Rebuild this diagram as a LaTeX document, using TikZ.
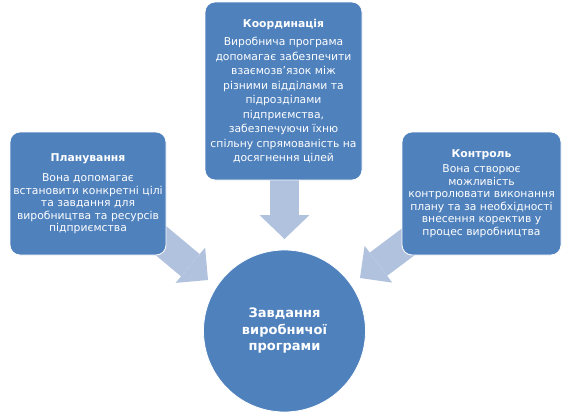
\documentclass[tikz,border=0pt]{standalone}
\usepackage{fontspec}
\setmainfont{DejaVu Sans}
\usetikzlibrary{arrows.meta}
\definecolor{boxblue}{HTML}{4F81BD}
\definecolor{arrowblue}{HTML}{B1C2DE}

\begin{document}
\begin{tikzpicture}[x=1pt, y=-1pt,
    task/.style={draw=white, line width=0.8pt, fill=boxblue, rounded corners=10pt,
        text=white, align=center, inner sep=0pt, font=\fontsize{10.8}{12.5}\selectfont},
    goal/.style={circle, fill=boxblue, draw=white, line width=0.8pt, text=white,
        align=center, minimum size=162pt, inner sep=0pt,
        font=\fontsize{13}{16.5}\selectfont\bfseries},
    flow/.style={arrowblue, line width=29pt,
        -{Triangle[width=46pt, length=23pt, line width=0pt]}}]
    \useasboundingbox[fill=white] (0,0) rectangle (567,415);

    \coordinate (tipL) at (208,280);
    \coordinate (tipT) at (284.5,239);
    \coordinate (tipR) at (360,278);
    \coordinate (fromL) at (147,229);
    \coordinate (fromT) at (284.5,150);
    \coordinate (fromR) at (424,230);

    \draw[flow] (fromL) -- (tipL);
    \draw[flow, -{Triangle[width=50pt, length=24pt, line width=0pt]}] (fromT) -- (tipT);
    \draw[flow] (fromR) -- (tipR);

    \node[task, minimum width=156pt, minimum height=123pt] (plan) at (88,193.5)
        {\textbf{Планування}\\[8pt]
         Вона допомагає\\встановити конкретні цілі\\та завдання для\\
         виробництва та ресурсів\\підприємства};
    \node[task, minimum width=157pt, minimum height=178pt,
        font=\fontsize{10.8}{14.5}\selectfont] (coord) at (283.5,91)
        {\textbf{Координація}\\[4pt]
         Виробнича програма\\допомагає забезпечити\\взаємозв'язок між\\
         різними відділами та\\підрозділами\\підприємства,\\
         забезпечуючи їхню\\спільну спрямованість на\\досягнення цілей};
    \node[task, minimum width=159pt, minimum height=123pt] (ctrl) at (481.5,193.5)
        {\textbf{Контроль}\\[3pt]
         Вона створює\\можливість\\контролювати виконання\\
         плану та за необхідності\\внесення коректив у\\процес виробництва};

    \node[goal] (goal) at (284.5,331) {Завдання\\виробничої\\програми};
\end{tikzpicture}
\end{document}
